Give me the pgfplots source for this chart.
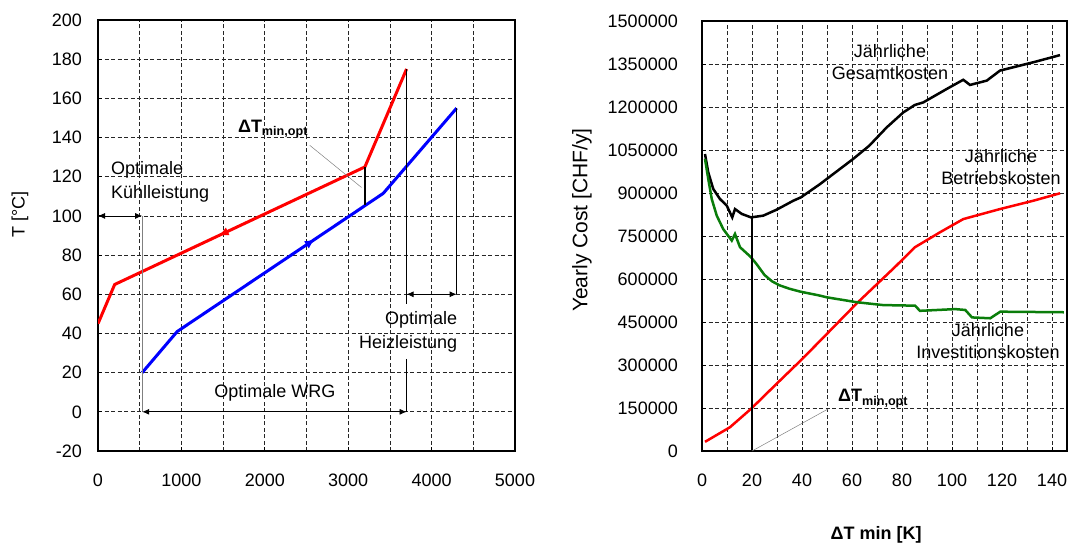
\documentclass[border=0pt]{standalone}
\usepackage{fontspec}
\setmainfont{Liberation Sans}
\usepackage{pgfplots}
\pgfplotsset{compat=1.18}
\usetikzlibrary{arrows.meta,decorations.markings}
\definecolor{dgreen}{RGB}{10,125,10}
\begin{document}
\fontsize{18}{22}\selectfont
\begin{tikzpicture}
\useasboundingbox (0pt,0pt) rectangle (1068pt,542pt);
\pgfplotsset{
  every axis/.append style={
    scale only axis,
    axis line style={line width=1.6pt},
    tick align=inside,
    xtick pos=bottom, ytick pos=left,
    major tick length=4pt,
    tick style={black,line width=1pt},
    grid=both,
    major grid style={black!85,line width=0.8pt,dash pattern=on 4pt off 2.5pt},
    minor grid style={black!85,line width=0.8pt,dash pattern=on 4pt off 2.5pt},
    minor tick length=0pt,
    /pgf/number format/assume math mode=true,
    /pgf/number format/fixed,
    /pgf/number format/precision=0,
    /pgf/number format/1000 sep={},
    scaled ticks=false,
    tick label style={font=\fontsize{18}{22}\selectfont},
    label style={font=\fontsize{18}{22}\selectfont},
    xticklabel style={yshift=-17pt},
  },
}
% ---------------- left panel ----------------
\begin{axis}[
  at={(98pt,91pt)}, anchor=south west,
  width=417pt, height=431pt,
  xmin=0, xmax=5000, ymin=-20, ymax=200,
  xtick={0,1000,2000,3000,4000,5000},
  minor xtick={500,1500,2500,3500,4500},
  ytick={-20,0,20,40,60,80,100,120,140,160,180,200},
  yticklabel style={xshift=-10pt},
  ylabel={T [°C]},
  ylabel style={at={(axis description cs:-0.187,0.548)},anchor=center},
]
\addplot[red, line width=3pt, postaction={decorate},
  decoration={markings, mark=at position 0.37 with {\arrowreversed{Latex[length=10pt,width=9pt]}}}]
  coordinates {(0,45) (200,65) (3200,125) (3700,175)};
\addplot[blue, line width=3pt, postaction={decorate},
  decoration={markings, mark=at position 0.53 with {\arrow{Latex[length=10pt,width=9pt]}}}]
  coordinates {(530,20) (950,41) (3420,111.5) (4300,155)};
\addplot[black, line width=2.2pt] coordinates {(3200,105.5) (3200,125)};
% annotations
\draw[{Latex[length=7pt,width=6pt]}-{Latex[length=7pt,width=6pt]}, line width=0.8pt] (axis cs:0,100) -- (axis cs:530,100);
\draw[black!50, line width=0.8pt] (axis cs:530,100) -- (axis cs:530,0);
\draw[{Latex[length=7pt,width=6pt]}-{Latex[length=7pt,width=6pt]}, line width=0.8pt] (axis cs:530,0) -- (axis cs:3700,0);
\draw[line width=0.8pt] (axis cs:3700,175) -- (axis cs:3700,55);
\draw[line width=0.8pt] (axis cs:3700,27) -- (axis cs:3700,0);
\draw[line width=0.8pt] (axis cs:4300,155) -- (axis cs:4300,60);
\draw[{Latex[length=7pt,width=6pt]}-{Latex[length=7pt,width=6pt]}, line width=0.8pt] (axis cs:3700,60) -- (axis cs:4300,60);
\draw[black!50, line width=0.5pt] (axis cs:2540,136) -- (axis cs:3160,114.5);
\node[anchor=west, align=left, inner sep=0pt, font=\fontsize{18}{24}\selectfont] at (axis cs:155,117.5) {Optimale\\Kühlleistung};
\node[anchor=east, align=right, inner sep=0pt, font=\fontsize{18}{24}\selectfont] at (axis cs:4310,41) {Optimale\\Heizleistung};
\node[inner sep=0pt] at (axis cs:2120,9.7) {Optimale WRG};
\node[anchor=base west, inner sep=0pt] at (axis cs:1677,142.5) {\bfseries ΔT\textsubscript{min,opt}};
\end{axis}
% ---------------- right panel ----------------
\begin{axis}[
  at={(702pt,91pt)}, anchor=south west,
  width=365pt, height=430pt,
  xmin=0, xmax=146, ymin=0, ymax=1500000,
  xtick={0,20,40,60,80,100,120,140},
  minor xtick={10,30,50,70,90,110,130},
  ytick={0,150000,300000,450000,600000,750000,900000,1050000,1200000,1350000,1500000},
  yticklabel style={xshift=-18pt},
  ylabel={Yearly Cost [CHF/y]},
  ylabel style={at={(axis description cs:-0.329,0.537)},anchor=center,font=\fontsize{21}{24}\selectfont},
  xlabel={\bfseries ΔT min [K]},
  xlabel style={at={(axis description cs:0.477,-0.195)},anchor=center},
]
% Jaehrliche Gesamtkosten
\addplot[black, line width=2.5pt] coordinates {
 (1.2,1036000) (2.5,972000) (4.5,914000) (7.2,879000) (9.9,856000) (12.1,815000)
 (13.2,844000) (15.9,827000) (19.6,815000) (24.5,821000) (29.9,842000) (36.5,873000)
 (39.6,885000) (47.2,931000) (49.9,949000) (60.5,1019000) (66.9,1065000) (73.9,1129000)
 (80.5,1181000) (85.1,1207000) (88.5,1216000) (97.9,1263000) (104.5,1295000)
 (107.2,1277000) (113.9,1292000) (119.2,1327000) (132.5,1356000) (143.2,1381000)};
% Jaehrliche Betriebskosten
\addplot[red, line width=2.5pt] coordinates {
 (1.2,32000) (11.2,83000) (19.6,147000) (29.9,235000) (39.5,316000) (47.2,384000)
 (61.9,515000) (77.2,642000) (85.2,711000) (95.2,763000) (104.5,809000) (119.2,844000)
 (132.5,873000) (143.2,899000)};
% Jaehrliche Investitionskosten
\addplot[dgreen, line width=2.5pt] coordinates {
 (1.2,1019000) (2.5,949000) (3.9,879000) (5.9,821000) (8.5,774000) (11.9,734000)
 (13.2,757000) (15.2,711000) (19.6,676000) (22,650000) (25,614000) (28,592000)
 (31,578000) (35,566000) (39.3,556000)
 (47.2,542000) (50,536000) (61.9,519000) (72.5,509000) (85.2,507000) (87.2,489000)
 (101.3,495000) (105.3,492000) (108,466000) (115.3,463000) (119.3,486000) (144.7,484000)};
\addplot[black, line width=2.6pt] coordinates {(20,0) (20,815000)};
\draw[black!50, line width=0.5pt] (axis cs:20,0) -- (axis cs:50.4,146500);
\node[anchor=base west, inner sep=0pt] at (axis cs:54.4,171000) {\bfseries ΔT\textsubscript{min,opt}};
\node[align=center, inner sep=0pt] at (axis cs:75.2,1358000) {Jährliche\\Gesamtkosten};
\node[align=center, inner sep=0pt] at (axis cs:119.6,989000) {Jährliche\\Betriebskosten};
\node[align=center, inner sep=0pt] at (axis cs:114.4,383700) {Jährliche\\Investitionskosten};
\end{axis}
\end{tikzpicture}
\end{document}
